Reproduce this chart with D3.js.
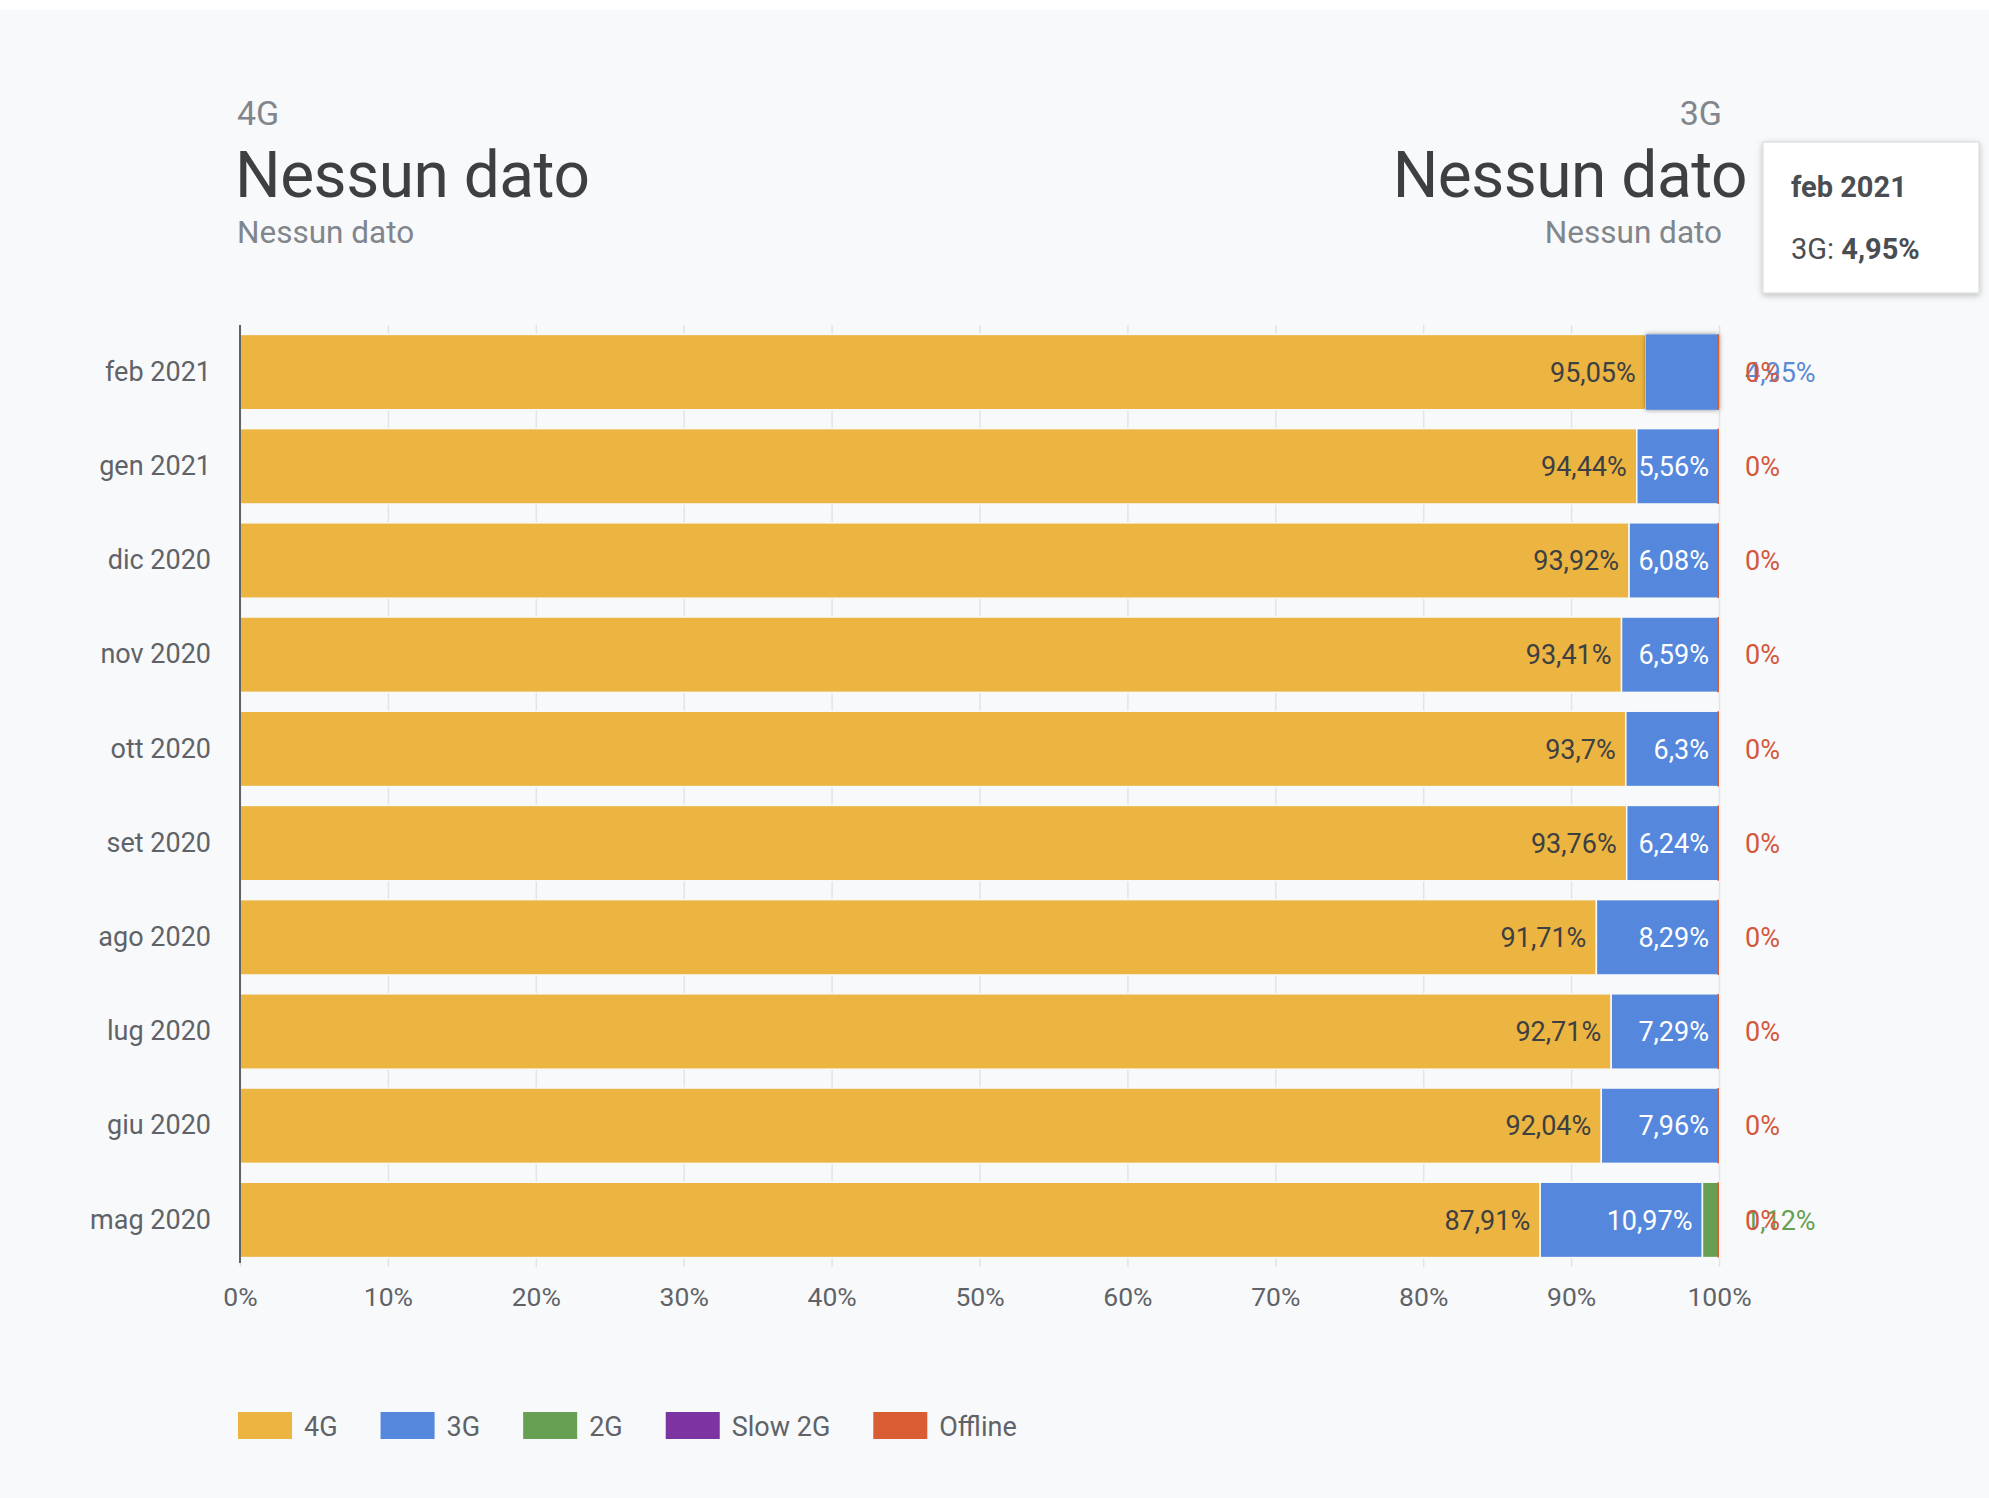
<!DOCTYPE html>
<html>
<head>
<meta charset="utf-8">
<script src="https://cdn.jsdelivr.net/npm/d3@7"></script>
<style>
  html, body { margin: 0; padding: 0; background: #ffffff; }
  svg { display: block; font-family: Roboto, "Noto Sans", sans-serif; }
</style>
</head>
<body>
<svg id="chart" width="1989" height="1498"></svg>
<script>
// ---- data ----
const months = ["feb 2021", "gen 2021", "dic 2020", "nov 2020", "ott 2020", "set 2020", "ago 2020", "lug 2020", "giu 2020", "mag 2020"];
const seriesNames = ["4G", "3G", "2G", "Slow 2G", "Offline"];
const values4G      = [95.05, 94.44, 93.92, 93.41, 93.7, 93.76, 91.71, 92.71, 92.04, 87.91];
const values3G      = [4.95, 5.56, 6.08, 6.59, 6.3, 6.24, 8.29, 7.29, 7.96, 10.97];
const values2G      = [null, null, null, null, null, null, null, null, null, 1.12];
const valuesSlow2G  = [null, null, null, null, null, null, null, null, null, null];
const valuesOffline = [0, 0, 0, 0, 0, 0, 0, 0, 0, 0];
const xTicks = [0, 10, 20, 30, 40, 50, 60, 70, 80, 90, 100];
const headerLeft = { label: "4G", value: "Nessun dato", sub: "Nessun dato" };
const headerRight = { label: "3G", value: "Nessun dato", sub: "Nessun dato" };
const highlight = { month: "feb 2021", series: "3G" };

const colors = { "4G": "#ecb441", "3G": "#5588dd", "2G": "#67a052", "Slow 2G": "#7b34a0", "Offline": "#d95c33" };
const outsideColors = { "3G": "#5a8ad8", "2G": "#67a052", "Slow 2G": "#7b34a0", "Offline": "#d4573a" };
const seriesValues = [values4G, values3G, values2G, valuesSlow2G, valuesOffline];

const fmt = v => String(v).replace(".", ",") + "%";

const svg = d3.select("#chart");
const W = 1989, H = 1498;

// background
svg.append("rect").attr("x", 0).attr("y", 10).attr("width", W).attr("height", H - 10).attr("fill", "#f8f9fa");

const x = d3.scaleLinear().domain([0, 100]).range([240, 1719]);
const y = d3.scaleBand().domain(months).range([325, 1267]).paddingInner(0.2).paddingOuter(0.1);

// header
const hdr = svg.append("g");
hdr.append("text").attr("x", 237).attr("y", 125).attr("font-size", 34).attr("fill", "#80868b").text(headerLeft.label);
hdr.append("text").attr("x", 235).attr("y", 197).attr("font-size", 64).attr("fill", "#3c4043").attr("letter-spacing", -0.5).text(headerLeft.value);
hdr.append("text").attr("x", 237).attr("y", 243).attr("font-size", 31.5).attr("fill", "#80868b").text(headerLeft.sub);
hdr.append("text").attr("x", 1722).attr("y", 125).attr("font-size", 34).attr("fill", "#80868b").attr("text-anchor", "end").text(headerRight.label);
hdr.append("text").attr("x", 1747).attr("y", 197).attr("font-size", 64).attr("fill", "#3c4043").attr("letter-spacing", -0.5).attr("text-anchor", "end").text(headerRight.value);
hdr.append("text").attr("x", 1722).attr("y", 243).attr("font-size", 31.5).attr("fill", "#80868b").attr("text-anchor", "end").text(headerRight.sub);

// gridlines
svg.append("g")
  .attr("transform", `translate(0,${y.range()[1]})`)
  .call(d3.axisBottom(x).tickValues(xTicks).tickSize(-(y.range()[1] - y.range()[0])).tickFormat(""))
  .call(g => g.select(".domain").remove())
  .call(g => g.selectAll("line").attr("stroke", "#e2e4e7").attr("stroke-width", 1.5));

// x tick labels
svg.append("g")
  .attr("transform", `translate(0,${y.range()[1]})`)
  .call(d3.axisBottom(x).tickValues(xTicks).tickSize(0).tickPadding(20).tickFormat(d => d + "%"))
  .call(g => g.select(".domain").remove())
  .call(g => g.selectAll("text").attr("font-size", 26.5).attr("fill", "#5f6368").attr("font-family", "Roboto, sans-serif"));

// stacked data
const rows = months.map((m, i) => {
  let acc = 0;
  const segs = seriesNames.map((s, k) => {
    const v = seriesValues[k][i];
    const x0 = acc;
    if (v != null) acc += v;
    return { month: m, series: s, value: v, x0: x0, x1: acc };
  });
  return { month: m, segs };
});

const defs = svg.append("defs");
const f = defs.append("filter").attr("id", "shadow").attr("x", "-20%").attr("y", "-20%").attr("width", "140%").attr("height", "140%");
f.append("feDropShadow").attr("dx", 0).attr("dy", 0).attr("stdDeviation", 2.5).attr("flood-color", "#000").attr("flood-opacity", 0.45);
const f2 = defs.append("filter").attr("id", "tipshadow").attr("x", "-20%").attr("y", "-20%").attr("width", "140%").attr("height", "140%");
f2.append("feDropShadow").attr("dx", 0).attr("dy", 2).attr("stdDeviation", 3).attr("flood-color", "#000").attr("flood-opacity", 0.25);

const barsG = svg.append("g");
rows.forEach(r => {
  const g = barsG.append("g");
  r.segs.forEach(s => {
    if (s.value == null) return;
    const isHi = s.month === highlight.month && s.series === highlight.series;
    let w = x(s.x1) - x(s.x0);
    if (s.value === 0) w = 1.5;
    const rect = g.append("rect")
      .attr("x", s.value === 0 ? x(s.x0) - 1.5 : x(s.x0))
      .attr("y", y(s.month))
      .attr("width", w)
      .attr("height", y.bandwidth())
      .attr("fill", colors[s.series]);
    if (s.value > 0 && !isHi) rect.attr("stroke", "#f8f9fa").attr("stroke-width", 1.5);
    if (isHi) { rect.attr("filter", "url(#shadow)").raise(); }
  });
});

// inside labels
const labelsG = svg.append("g").attr("font-size", 27);
rows.forEach(r => {
  r.segs.forEach(s => {
    if (s.value == null) return;
    const isHi = s.month === highlight.month && s.series === highlight.series;
    const w = x(s.x1) - x(s.x0);
    if (w > 70 && !isHi) {
      labelsG.append("text")
        .attr("x", x(s.x1) - 10)
        .attr("y", y(s.month) + y.bandwidth() / 2)
        .attr("dy", "0.36em")
        .attr("text-anchor", "end")
        .attr("fill", s.series === "4G" ? "#3c4043" : "#ffffff")
        .text(fmt(s.value));
    }
  });
});

// outside labels (small segments), offline drawn last
const outG = svg.append("g").attr("font-size", 27);
rows.forEach(r => {
  const outs = r.segs.filter(s => {
    if (s.value == null || s.series === "4G") return false;
    const isHi = s.month === highlight.month && s.series === highlight.series;
    return (x(s.x1) - x(s.x0)) <= 70 || isHi;
  });
  outs.sort((a, b) => (a.series === "Offline") - (b.series === "Offline"));
  outs.forEach(s => {
    outG.append("text")
      .attr("x", x(100) + 26)
      .attr("y", y(s.month) + y.bandwidth() / 2)
      .attr("dy", "0.36em")
      .attr("fill", outsideColors[s.series])
      .text(fmt(s.value));
  });
});

// y labels
svg.append("g")
  .attr("transform", `translate(${x(0)},0)`)
  .call(d3.axisLeft(y).tickSize(0).tickPadding(29))
  .call(g => g.select(".domain").attr("stroke", "#5f6368").attr("stroke-width", 2).attr("d", `M0,${y.range()[0]}V${y.range()[1] - 4}`))
  .call(g => g.selectAll("text").attr("font-size", 27).attr("fill", "#5f6368").attr("font-family", "Roboto, sans-serif"));

// legend
const lg = svg.append("g").attr("transform", "translate(238,1412)");
let lx = 0;
seriesNames.forEach(s => {
  const item = lg.append("g").attr("transform", `translate(${lx},0)`);
  item.append("rect").attr("width", 54).attr("height", 27).attr("fill", colors[s]);
  const t = item.append("text").attr("x", 66).attr("y", 14).attr("dy", "0.36em")
    .attr("font-size", 27).attr("fill", "#5f6368").text(s);
  lx += 66 + t.node().getComputedTextLength() + 43;
});

// tooltip
const tip = svg.append("g").attr("transform", "translate(1763,142)");
tip.append("rect").attr("width", 216).attr("height", 151).attr("fill", "#ffffff")
  .attr("stroke", "#d5d7da").attr("stroke-width", 1).attr("filter", "url(#tipshadow)");
tip.append("text").attr("x", 28).attr("y", 55).attr("font-size", 29).attr("font-weight", "bold").attr("fill", "#4a4d51").text(highlight.month);
const hiIdx = months.indexOf(highlight.month);
const t2 = tip.append("text").attr("x", 28).attr("y", 117).attr("font-size", 29).attr("fill", "#4a4d51");
t2.append("tspan").text(highlight.series + ": ");
t2.append("tspan").attr("font-weight", "bold").text(fmt(seriesValues[seriesNames.indexOf(highlight.series)][hiIdx]));
</script>
</body>
</html>
